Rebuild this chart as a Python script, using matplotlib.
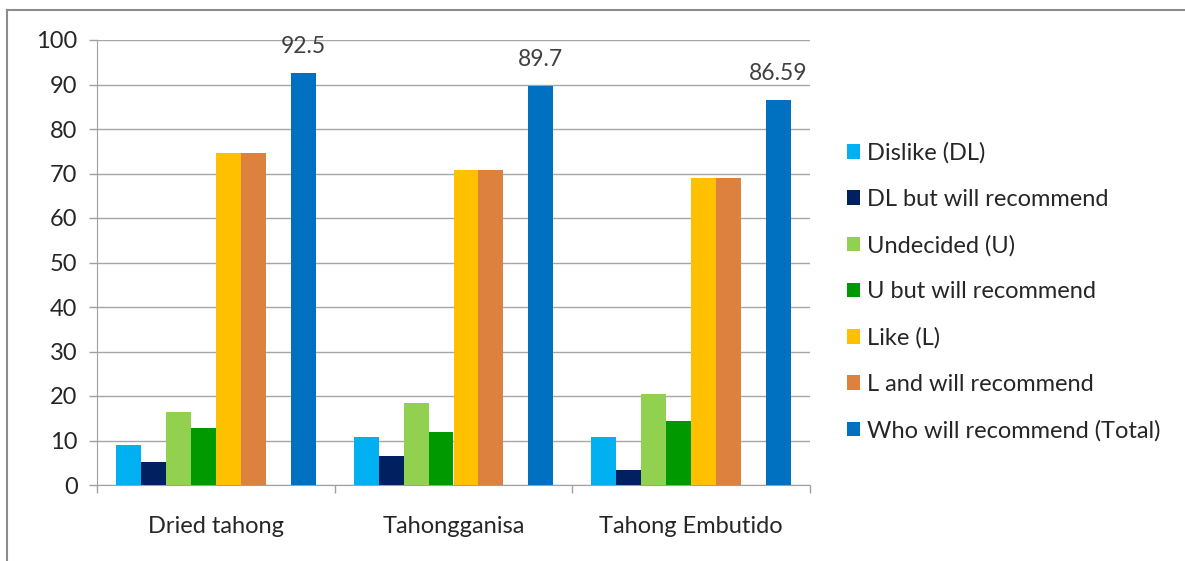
import numpy as np
import matplotlib
matplotlib.use('Agg')
import matplotlib.pyplot as plt
from matplotlib.lines import Line2D

PRODUCTS = ['Dried tahong', 'Tahongganisa', 'Tahong Embutido']

SERIES = [
    'Dislike (DL)',
    'DL but will recommend',
    'Undecided (U)',
    'U but will recommend',
    'Like (L)',
    'L and will recommend',
    'Who will recommend (Total)',
]

DISLIKE     = [9.0, 10.7, 10.7]
DL_RECOMMEND = [5.1, 6.5, 3.4]
UNDECIDED   = [16.3, 18.5, 20.5]
U_RECOMMEND = [12.7, 12.0, 14.3]
LIKE        = [74.7, 70.8, 69.1]
L_RECOMMEND = [74.7, 70.8, 69.1]
TOTAL       = [92.5, 89.7, 86.59]
TOTAL_LABELS = ['92.5', '89.7', '86.59']

COLORS = ['#00B0F0', '#002060', '#92D050', '#009A00',
          '#FFC000', '#DC823E', '#0070C0']

# slot index inside each group; slot 6 stays empty
SLOTS = [0, 1, 2, 3, 4, 5, 7]

plt.rcParams['font.family'] = ['Lato', 'DejaVu Sans']

fig = plt.figure(figsize=(11.85, 5.61), dpi=100)
ax = fig.add_axes([97 / 1185, 1 - 485 / 561, 713 / 1185, 445 / 561])

x = np.arange(len(PRODUCTS))
width = 0.105
values = [DISLIKE, DL_RECOMMEND, UNDECIDED, U_RECOMMEND, LIKE, L_RECOMMEND, TOTAL]

handles = []
for vals, slot, col, lbl in zip(values, SLOTS, COLORS, SERIES):
    bars = ax.bar(x + (slot - 3.5) * width, vals, width, color=col,
                  label=lbl, zorder=3, linewidth=0)
    handles.append(bars)

total_bars = handles[-1]
for bar, txt in zip(total_bars, TOTAL_LABELS):
    ax.text(bar.get_x() + bar.get_width() / 2, bar.get_height() + 3.6, txt,
            ha='center', va='bottom', fontsize=16.5, color='#404040',
            clip_on=False, zorder=4)

ax.set_xlim(-0.5, 2.5)
ax.set_ylim(0, 100)
ax.set_yticks(range(0, 101, 10))
ax.tick_params(axis='y', labelsize=17, colors='#A0A0A0', labelcolor='#262626',
               length=6, width=1, pad=8)
ax.set_xticks([-0.5, 0.5, 1.5, 2.5])
ax.set_xticklabels([])
ax.set_xticks(x, minor=True)
ax.set_xticklabels(PRODUCTS, minor=True, fontsize=17, color='#262626')
ax.tick_params(axis='x', which='major', length=6, width=1, colors='#A0A0A0')
ax.tick_params(axis='x', which='minor', length=0, pad=22)

ax.grid(True, axis='y', color='#A6A6A6', lw=1, zorder=0)
for side in ['top', 'right']:
    ax.spines[side].set_visible(False)
for side in ['left', 'bottom']:
    ax.spines[side].set_color('#A0A0A0')

leg = fig.legend(handles=handles, labels=SERIES, loc='upper left',
                 bbox_to_anchor=(826 / 1185, 1 - 121 / 561), frameon=False,
                 fontsize=17, labelspacing=1.06, handlelength=0.55,
                 handleheight=0.55, handletextpad=0.3, labelcolor='#262626')

# frame lines along the left and top edges of the figure
fig.add_artist(Line2D([7 / 1185, 7 / 1185], [0, 1 - 10 / 561],
                      transform=fig.transFigure, color='#8C8C8C', lw=1.5))
fig.add_artist(Line2D([7 / 1185, 1], [1 - 10 / 561, 1 - 10 / 561],
                      transform=fig.transFigure, color='#8C8C8C', lw=1.5))

fig.savefig('out.png', dpi=100)
plt.close(fig)
